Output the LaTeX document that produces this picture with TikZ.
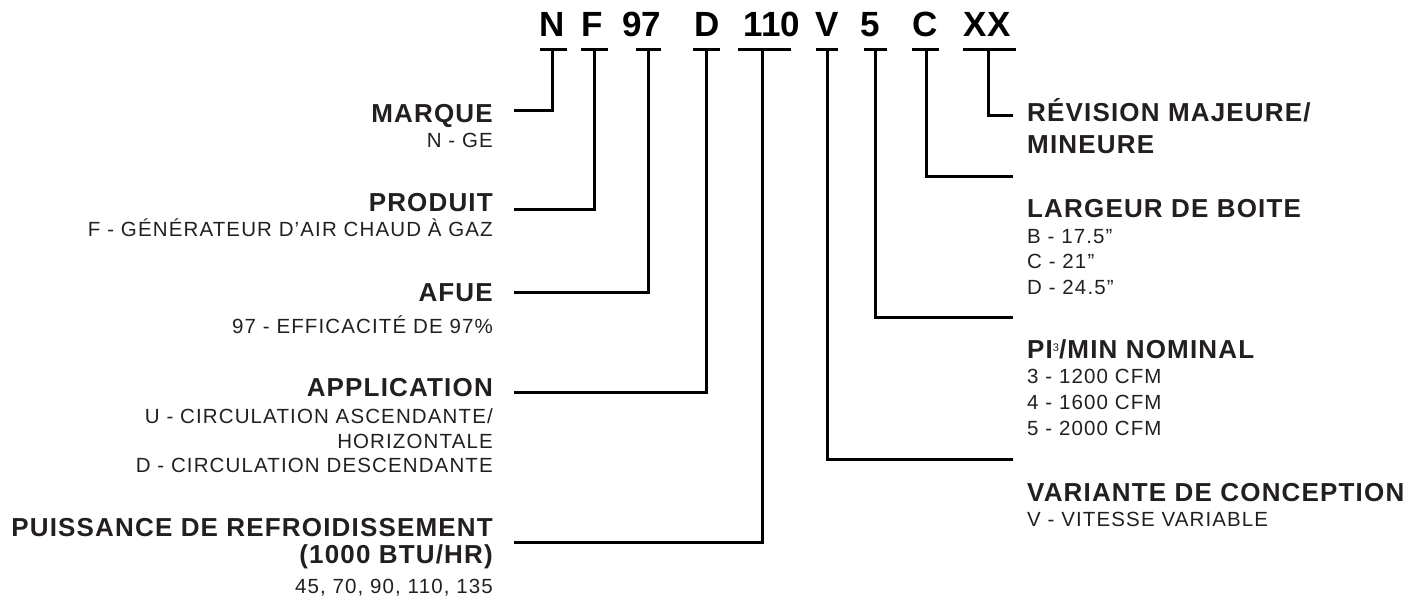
\documentclass[tikz,border=0pt]{standalone}
\usepackage{fontspec}
\setmainfont{Liberation Sans}
\newfontfamily\codefont{Liberation Sans}
\newfontfamily\headfont[LetterSpace=4.5]{Liberation Sans}
\newfontfamily\descfont[LetterSpace=5.5]{Liberation Sans}
\usetikzlibrary{positioning}
\definecolor{inkgray}{HTML}{231F20}

\begin{document}
\begin{tikzpicture}[
    x=1pt, y=-1pt,
    code/.style={font=\codefont\bfseries\fontsize{35}{35}\selectfont, inner sep=0pt, anchor=base},
    head/.style={font=\headfont\bfseries\fontsize{26}{31.6}\selectfont, text=inkgray, inner sep=0pt},
    desc/.style={font=\descfont\fontsize{20.5}{24.7}\selectfont, text=inkgray, inner sep=0pt},
    leftlbl/.style={anchor=base east, align=right},
    rightlbl/.style={anchor=base west, align=left},
    bar/.style={line width=2.6pt},
    link/.style={line width=3pt}
    ]
    \useasboundingbox (0,0) rectangle (1427,600);

    % Code du modele
    \node[code] (cN)   at (552,36.7)   {N};
    \node[code] (cF)   at (592,36.7)   {F};
    \node[code] (c97)  at (641.7,36.7) {97};
    \node[code] (cD)   at (707,36.7)   {D};
    \node[code] (c110) at (771.7,36.7) {110};
    \node[code] (cV)   at (826.7,36.7) {V};
    \node[code] (c5)   at (870.7,36.7) {5};
    \node[code] (cC)   at (925,36.7)   {C};
    \node[code] (cXX)  at (987,36.7)   {XX};

    % Barres sous chaque champ
    \coordinate (bN)   at (552.5,49.5);
    \coordinate (bF)   at (594,49.5);
    \coordinate (b97)  at (648.5,49.5);
    \coordinate (bD)   at (706.5,49.5);
    \coordinate (b110) at (762,49.5);
    \coordinate (bV)   at (827,49.5);
    \coordinate (b5)   at (875.5,49.5);
    \coordinate (bC)   at (926,49.5);
    \coordinate (bXX)  at (988.5,49.5);
    \draw[bar] ([xshift=-13]bN) -- ([xshift=14]bN);
    \draw[bar] ([xshift=-13]bF) -- ([xshift=14]bF);
    \draw[bar] ([xshift=-12.5]b97) -- ([xshift=12.5]b97);
    \draw[bar] ([xshift=-13.5]bD) -- ([xshift=13.5]bD);
    \draw[bar] ([xshift=-24]b110) -- ([xshift=29]b110);
    \draw[bar] ([xshift=-11]bV) -- ([xshift=11]bV);
    \draw[bar] ([xshift=-11.5]b5) -- ([xshift=11.5]b5);
    \draw[bar] ([xshift=-14]bC) -- ([xshift=13]bC);
    \draw[bar] ([xshift=-25.5]bXX) -- ([xshift=27.5]bXX);

    % Libelles a gauche (ancre sur la derniere ligne)
    \node[head, leftlbl] (hMarque) at (493,122) {MARQUE};
    \node[desc, leftlbl] (dMarque) at (493,147) {N - GE};
    \node[head, leftlbl] (hProduit) at (493,211.7) {PRODUIT};
    \node[desc, leftlbl] (dProduit) at (493,236.7) {F - GÉNÉRATEUR D’AIR CHAUD À GAZ};
    \node[head, leftlbl] (hAfue) at (493,301) {AFUE};
    \node[desc, leftlbl] (dAfue) at (493,333.3) {97 - EFFICACITÉ DE 97\%};
    \node[head, leftlbl] (hAppli) at (493,396.7) {APPLICATION};
    \node[desc, leftlbl] (dAppli) at (493,472.7) {U - CIRCULATION ASCENDANTE/\\HORIZONTALE\\D - CIRCULATION DESCENDANTE};
    \node[head, leftlbl] (hPuiss) at (493,536.7) {PUISSANCE DE REFROIDISSEMENT};
    \node[head, leftlbl] (hPuissB) at (493,563.3) {(1000 BTU/HR)};
    \node[desc, leftlbl] (dPuiss) at (493,593.3) {45, 70, 90, 110, 135};

    % Libelles a droite
    \node[head, rightlbl] (hRevision) at (1027,153.3) {RÉVISION MAJEURE/\\MINEURE};
    \node[head, rightlbl] (hLargeur) at (1027,217.7) {LARGEUR DE BOITE};
    \node[desc, rightlbl, font=\descfont\fontsize{20.5}{25.3}\selectfont] (dLargeur) at (1027,294) {B - 17.5”\\C - 21”\\D - 24.5”};
    \node[head, rightlbl] (hDebit) at (1027,358.3) {PI\raisebox{7pt}{\mdseries\fontsize{11}{11}\selectfont 3}/MIN NOMINAL};
    \node[desc, rightlbl, font=\descfont\fontsize{20.5}{25.8}\selectfont] (dDebit) at (1027,435) {3 - 1200 CFM\\4 - 1600 CFM\\5 - 2000 CFM};
    \node[head, rightlbl] (hVariante) at (1027,501) {VARIANTE DE CONCEPTION};
    \node[desc, rightlbl] (dVariante) at (1027,526.7) {V - VITESSE VARIABLE};

    % Extremites des liaisons
    \coordinate (eN)   at (514,110.7);
    \coordinate (eF)   at (514,209.5);
    \coordinate (e97)  at (514,292);
    \coordinate (eD)   at (514,392);
    \coordinate (e110) at (514,542.7);
    \coordinate (eXX)  at (1013,115.7);
    \coordinate (eC)   at (1013,176);
    \coordinate (e5)   at (1013,317.7);
    \coordinate (eV)   at (1013,459.3);

    % Liaisons
    \draw[link] (bN) |- (eN);
    \draw[link] (bF) |- (eF);
    \draw[link] (b97) |- (e97);
    \draw[link] (bD) |- (eD);
    \draw[link] (b110) |- (e110);
    \draw[link] (bXX) |- (eXX);
    \draw[link] (bC) |- (eC);
    \draw[link] (b5) |- (e5);
    \draw[link] (bV) |- (eV);

\end{tikzpicture}
\end{document}
